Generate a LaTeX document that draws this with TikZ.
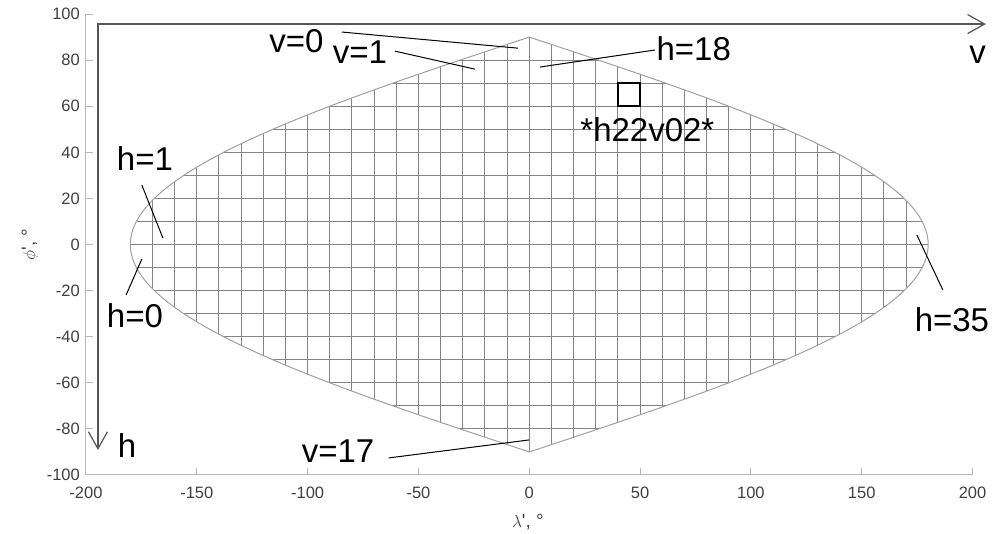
\documentclass[tikz,border=0pt]{standalone}
\usepackage{fontspec}
\setmainfont{Liberation Sans}
\usetikzlibrary{arrows.meta}
\definecolor{gridgrey}{HTML}{858585}
\definecolor{edgegrey}{HTML}{A0A0A0}
\definecolor{axisgrey}{HTML}{B8B8B8}
\definecolor{ticktext}{HTML}{404040}
\definecolor{hvgrey}{HTML}{555555}
\begin{document}
\begin{tikzpicture}[x=2.2167pt,y=2.305pt,
  gridln/.style={draw=gridgrey,line width=1pt},
  edge/.style={draw=edgegrey,line width=1pt},
  axln/.style={draw=axisgrey,line width=1pt},
  ticklab/.style={font=\fontsize{16.5}{19}\selectfont,text=ticktext,inner sep=0pt},
  axlab/.style={font=\fontsize{19}{22}\selectfont,text=ticktext,inner sep=0pt},
  tilelab/.style={font=\fontsize{33}{40}\selectfont,anchor=base,inner sep=0pt},
  leader/.style={draw=black,line width=1pt},
  hvaxis/.style={draw=hvgrey,line width=1.8pt,
                 {Straight Barb[length=17pt,width=19pt,line width=1.2pt]}-{Straight Barb[length=17pt,width=19pt,line width=1.2pt]}}]
\useasboundingbox (-238.8,-125.2) rectangle (214.2,106.1);
\begin{scope}
\clip plot[domain=-90:90,samples=91] ({180*cos(\x)},\x) -- plot[domain=90:-90,samples=91] ({-180*cos(\x)},\x) -- cycle;
\foreach \gx in {-180,-170,...,180} \draw[gridln] (\gx,-90) -- (\gx,90);
\foreach \gy in {-90,-80,...,90} \draw[gridln] (-180,\gy) -- (180,\gy);
\end{scope}
\draw[edge] plot[domain=-90:90,samples=91] ({180*cos(\x)},\x) -- plot[domain=90:-90,samples=91] ({-180*cos(\x)},\x) -- cycle;
\draw[axln] (-200,100) coordinate (ytop) -- (-200,-100) coordinate (orig) -- (200,-100) coordinate (xend);
\foreach \ty [count=\i] in {-100,-80,...,100} {
  \draw[axln] (-200,\ty) -- ++(7pt,0);
  \node[ticklab,anchor=east] (ytick\i) at ([xshift=-6pt]-200,\ty) {\ty};
}
\foreach \tx [count=\i] in {-200,-150,...,200} {
  \draw[axln] (\tx,-100) -- ++(0,7pt);
  \node[ticklab,anchor=north] (xtick\i) at ([yshift=-12pt]\tx,-100) {\tx};
}
\node[axlab,rotate=90] (ylab) at (-225.3,0) {$\phi$\textquotesingle, °};
\node[axlab] (xlab) at (-0.6,-120.4) {$\lambda$\textquotesingle, °};
\coordinate (hvcorner) at (-194.6,95.66);
\coordinate (vend) at (206,95.66);
\coordinate (hend) at (-194.6,-89.15);
\draw[hvaxis] (hend) -- (hvcorner) -- (vend);
\node[tilelab] (vlab) at (202.3,78.7) {v};
\node[tilelab] (hlab) at (-181.5,-92.2) {h};
\draw[line width=1.6pt] (40,60) coordinate (tilesw) rectangle (50,70) coordinate (tilene);
\node[tilelab] (tilename) at (53.3,44.5) {*h22v02*};
\node[tilelab] (v0) at (-105,83.5) {v=0};
\node[tilelab] (v1) at (-76.4,78.7) {v=1};
\node[tilelab] (h18) at (74.2,80) {h=18};
\node[tilelab] (h1) at (-173.4,32.3) {h=1};
\node[tilelab] (h0) at (-177.9,-35.8) {h=0};
\node[tilelab] (h35) at (190.7,-37.9) {h=35};
\node[tilelab] (v17) at (-86.3,-94.8) {v=17};
\coordinate (v0a) at (-84.6,92.2);
\coordinate (v0b) at (-5.1,85.2);
\coordinate (v1a) at (-60.6,83.9);
\coordinate (v1b) at (-24.5,76.1);
\coordinate (h18a) at (56.7,84.4);
\coordinate (h18b) at (4.8,77);
\coordinate (h1a) at (-174.8,25.8);
\coordinate (h1b) at (-165.3,2.8);
\coordinate (h0a) at (-181.9,-21.9);
\coordinate (h0b) at (-174.8,-6.3);
\coordinate (h35a) at (186.6,-19.7);
\coordinate (h35b) at (174.9,4.1);
\coordinate (v17a) at (-63.4,-92.6);
\coordinate (v17b) at (-0.1,-84.8);
\draw[leader] (v0a) -- (v0b);
\draw[leader] (v1a) -- (v1b);
\draw[leader] (h18a) -- (h18b);
\draw[leader] (h1a) -- (h1b);
\draw[leader] (h0a) -- (h0b);
\draw[leader] (h35a) -- (h35b);
\draw[leader] (v17a) -- (v17b);
\end{tikzpicture}
\end{document}
